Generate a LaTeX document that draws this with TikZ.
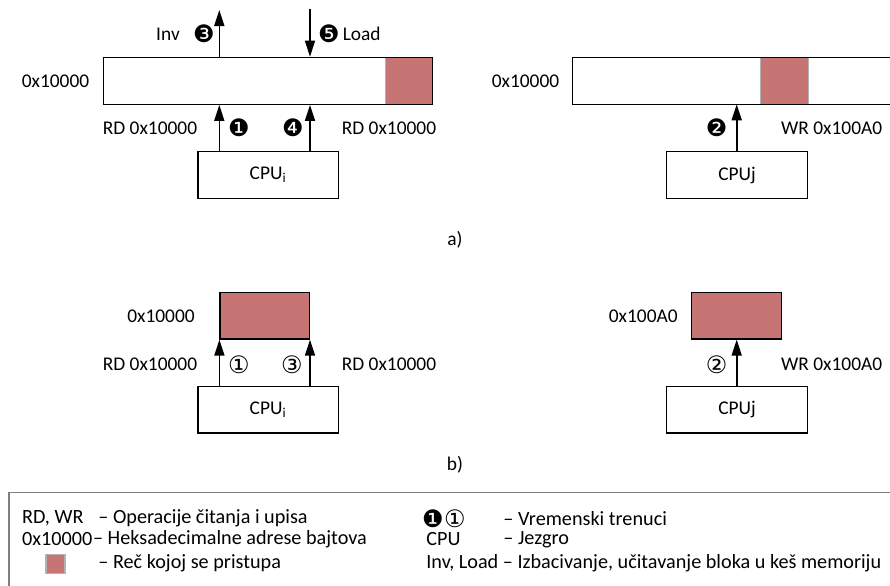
\documentclass[tikz,border=0pt]{standalone}
\usepackage{fontspec}
\setmainfont{Carlito}
\newfontfamily\symfont{DejaVu Sans}
\usetikzlibrary{arrows.meta,positioning,calc}

\definecolor{wordred}{RGB}{199,116,116}

\tikzset{
  cpubox/.style={draw, line width=0.6pt, minimum width=70.2pt, minimum height=23.3pt, inner sep=0pt, font=\fontsize{9.7}{11.5}\selectfont},
  membar/.style={draw, line width=0.6pt, minimum height=23.5pt, inner sep=0pt},
  wordbox/.style={fill=wordred, draw=black!30, line width=0.6pt, minimum height=23.5pt, inner sep=0pt},
  rw/.style={-{Triangle[width=5pt,length=8pt]}, line width=0.8pt},
  txt/.style={inner sep=0pt, font=\fontsize{9.7}{11.5}\selectfont},
  legtxt/.style={inner sep=0pt, anchor=west, font=\fontsize{10.1}{12}\selectfont},
}
% black and white circled numbers
\newcommand{\tnum}[1]{{\symfont\fontsize{12}{14}\selectfont#1}}

\begin{document}
\begin{tikzpicture}[x=0.5pt,y=-0.5pt]
  \useasboundingbox (0,0) rectangle (890,585);

  % a) CPUi reads, line gets invalidated and reloaded
  \node[wordbox, minimum width=23.5pt] (wordA) at (409.2,80.8) {};
  \node[membar, minimum width=164.7pt] (memA) at (268,80.8) {};
  \node[cpubox] (cpuA) at (268.2,175) {CPU\textsubscript{i}};
  \node[txt] (addrA) at (55.5,81) {0x10000};
  \coordinate (ax1) at (219.3,0);
  \coordinate (ax4) at (310,0);
  \coordinate (invEnd) at (219.3,10);
  \coordinate (loadStart) at (310,9);
  \draw[rw] (cpuA.north -| ax1) -- (memA.south -| ax1);
  \draw[rw] (cpuA.north -| ax4) -- (memA.south -| ax4);
  \draw[rw] (memA.north -| ax1) -- (invEnd);
  \draw[rw] (loadStart) -- (memA.north -| ax4);
  \node[txt] (inv) at (168,34) {Inv};
  \node[txt] (n3) at (204,34) {\tnum{❸}};
  \node[txt] (n5) at (329,34) {\tnum{❺}};
  \node[txt] (load) at (361.7,34) {Load};
  \node[txt] (rdA1) at (150,128) {RD 0x10000};
  \node[txt] (n1) at (239,128) {\tnum{❶}};
  \node[txt] (n4) at (293,128) {\tnum{❹}};
  \node[txt] (rdA4) at (389,128) {RD 0x10000};

  % a) CPUj writes into the same block
  \node[wordbox, minimum width=23.8pt] (wordB) at (784.5,80.8) {};
  \draw[line width=0.6pt] (900,57.3) -- (572.3,57.3) -- (572.3,104.3) -- (900,104.3);
  \coordinate (memBs) at (736.7,104.3);
  \node[cpubox] (cpuB) at (737,175) {CPUj};
  \node[txt] (addrB) at (525.5,81) {0x10000};
  \draw[rw] (cpuB.north -| memBs) -- (memBs);
  \node[txt] (n2) at (716.7,128) {\tnum{❷}};
  \node[txt] (wrB) at (831.7,128) {WR 0x100A0};

  \node[txt] (capA) at (455,240) {a)};

  % b) only the accessed words
  \node[wordbox, draw=black, minimum width=44.7pt, minimum height=23.3pt] (wordC) at (264.7,315.7) {};
  \node[cpubox] (cpuC) at (268.2,409.7) {CPU\textsubscript{i}};
  \node[txt] (addrC) at (161,316.7) {0x10000};
  \draw[rw] (cpuC.north -| wordC.south west) -- (wordC.south west);
  \draw[rw] (cpuC.north -| wordC.south east) -- (wordC.south east);
  \node[txt] (rdC1) at (150,364.3) {RD 0x10000};
  \node[txt] (m1) at (239,364.3) {\tnum{①}};
  \node[txt] (m3) at (292,364.3) {\tnum{③}};
  \node[txt] (rdC3) at (389,364.3) {RD 0x10000};

  \node[wordbox, draw=black, minimum width=45pt, minimum height=23.3pt] (wordD) at (736.7,315.7) {};
  \node[cpubox] (cpuD) at (737,409.7) {CPUj};
  \node[txt] (addrD) at (643.3,316.7) {0x100A0};
  \draw[rw] (cpuD.north -| wordD.south) -- (wordD.south);
  \node[txt] (m2) at (716.7,364.3) {\tnum{②}};
  \node[txt] (wrD) at (831.7,364.3) {WR 0x100A0};

  \node[txt] (capB) at (455,465) {b)};

  % legend
  \draw[black!50, line width=0.8pt] (900,492.3) -- (8.7,492.3) -- (8.7,600);
  \node[legtxt] (lgRW) at (21.7,518.3) {RD, WR};
  \node[legtxt] (lgRWt) at (98,518.3) {– Operacije čitanja i upisa};
  \node[legtxt] (lgAd) at (21.7,539.5) {0x10000};
  \node[legtxt] (lgAdt) at (lgAd.east) {– Heksadecimalne adrese bajtova};
  \node[wordbox, minimum width=9.5pt, minimum height=9.5pt] (lgWd) at (55.5,564) {};
  \node[legtxt] (lgWdt) at (98,563) {– Reč kojoj se pristupa};
  \node[txt] (lgN1) at (433,518.3) {\tnum{❶}};
  \node[txt] (lgM1) at (455,518.3) {\tnum{①}};
  \node[legtxt] (lgNt) at (503,518.3) {– Vremenski trenuci};
  \node[legtxt] (lgCpu) at (426,539.5) {CPU};
  \node[legtxt] (lgCput) at (503,539.5) {– Jezgro};
  \node[legtxt] (lgInv) at (426,563) {Inv, Load – Izbacivanje, učitavanje bloka u keš memoriju};
\end{tikzpicture}
\end{document}
